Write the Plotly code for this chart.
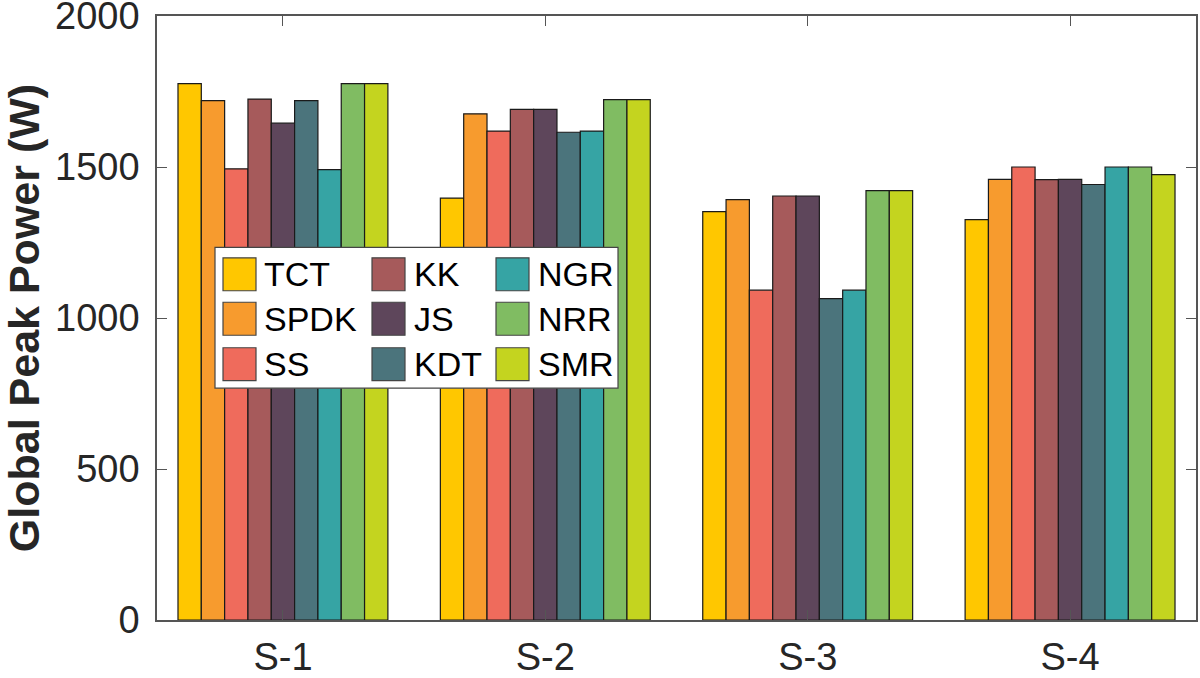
import plotly.graph_objects as go

# ---------------- data ----------------
categories = ["S-1", "S-2", "S-3", "S-4"]
methods = ["TCT", "SPDK", "SS", "KK", "JS", "KDT", "NGR", "NRR", "SMR"]

TCT = [1776, 1397, 1352, 1326]
SPDK = [1720, 1676, 1392, 1459]
SS = [1494, 1619, 1092, 1500]
KK = [1725, 1691, 1404, 1458]
JS = [1645, 1691, 1404, 1459]
KDT = [1720, 1615, 1064, 1442]
NGR = [1491, 1619, 1092, 1500]
NRR = [1776, 1723, 1422, 1500]
SMR = [1776, 1723, 1422, 1475]

series = [TCT, SPDK, SS, KK, JS, KDT, NGR, NRR, SMR]
colors = ["#FFC700", "#F79B2E", "#EF6B5C", "#A65A5B", "#5E465B",
          "#4B747C", "#36A4A4", "#80BC62", "#C4D41F"]

y_ticks = [0, 500, 1000, 1500, 2000]

# ---------------- layout constants ----------------
W, H = 1200, 678
L, R, T, B = 157, 1196, 15.5, 620
FONT = "Liberation Sans, Arial, sans-serif"
AX_COLOR = "#555555"
TXT_COLOR = "#262626"


def px_x(px):
    return (px - L) / (R - L)


def px_y(py):
    return (B - py) / (B - T)


fig = go.Figure()
for name, vals, col in zip(methods, series, colors):
    fig.add_trace(go.Bar(
        name=name, x=categories, y=vals,
        marker=dict(color=col, line=dict(color="#1a1a1a", width=1.2)),
        showlegend=False,
    ))

# ---------------- custom legend (3 columns, column-major) ----------------
shapes = []
annotations = []
shapes.append(dict(type="rect", xref="paper", yref="paper", layer="above",
                   x0=px_x(215), x1=px_x(618), y0=px_y(388), y1=px_y(247),
                   fillcolor="white", line=dict(color="#444444", width=1.2)))
col_sw = [223, 372, 496]
col_tx = [262, 412, 536]
row_top = [257.5, 302, 347.5]
sw = 33
for i, (name, col) in enumerate(zip(methods, colors)):
    c, r = i // 3, i % 3
    x0 = col_sw[c]
    y0 = row_top[r]
    shapes.append(dict(type="rect", xref="paper", yref="paper", layer="above",
                       x0=px_x(x0), x1=px_x(x0 + sw), y0=px_y(y0 + sw), y1=px_y(y0),
                       fillcolor=col, line=dict(color="#444444", width=1.2)))
    annotations.append(dict(xref="paper", yref="paper", x=px_x(col_tx[c]),
                            y=px_y(y0 + sw / 2), text=name, showarrow=False,
                            xanchor="left", yanchor="middle",
                            font=dict(family=FONT, size=34, color="black")))

fig.update_layout(
    width=W, height=H,
    margin=dict(l=L, r=W - R, t=T, b=H - B, pad=0),
    paper_bgcolor="white", plot_bgcolor="white",
    barmode="group", bargap=0.2, bargroupgap=0,
    font=dict(family=FONT, color=TXT_COLOR),
    shapes=shapes, annotations=annotations,
    showlegend=False,
)

fig.update_xaxes(
    type="category", range=[-0.48, 3.48],
    showline=True, linecolor=AX_COLOR, linewidth=1.5, mirror="ticks",
    ticks="inside", ticklen=10, tickwidth=1.2, tickcolor=AX_COLOR,
    tickfont=dict(family=FONT, size=38, color=TXT_COLOR),
    ticklabelstandoff=3, ticklabeloverflow="allow",
    showgrid=False, zeroline=False, automargin=False,
)
fig.update_yaxes(
    range=[0, 2000], tickvals=y_ticks,
    showline=True, linecolor=AX_COLOR, linewidth=1.5, mirror="ticks",
    ticks="inside", ticklen=10, tickwidth=1.2, tickcolor=AX_COLOR,
    tickfont=dict(family=FONT, size=38, color=TXT_COLOR),
    ticklabelstandoff=8, ticklabeloverflow="allow",
    title=dict(text="<b>Global Peak Power (W)</b>",
               font=dict(family=FONT, size=43, color=TXT_COLOR), standoff=14),
    showgrid=False, zeroline=False, automargin=False,
)

fig.write_html("out.html")
